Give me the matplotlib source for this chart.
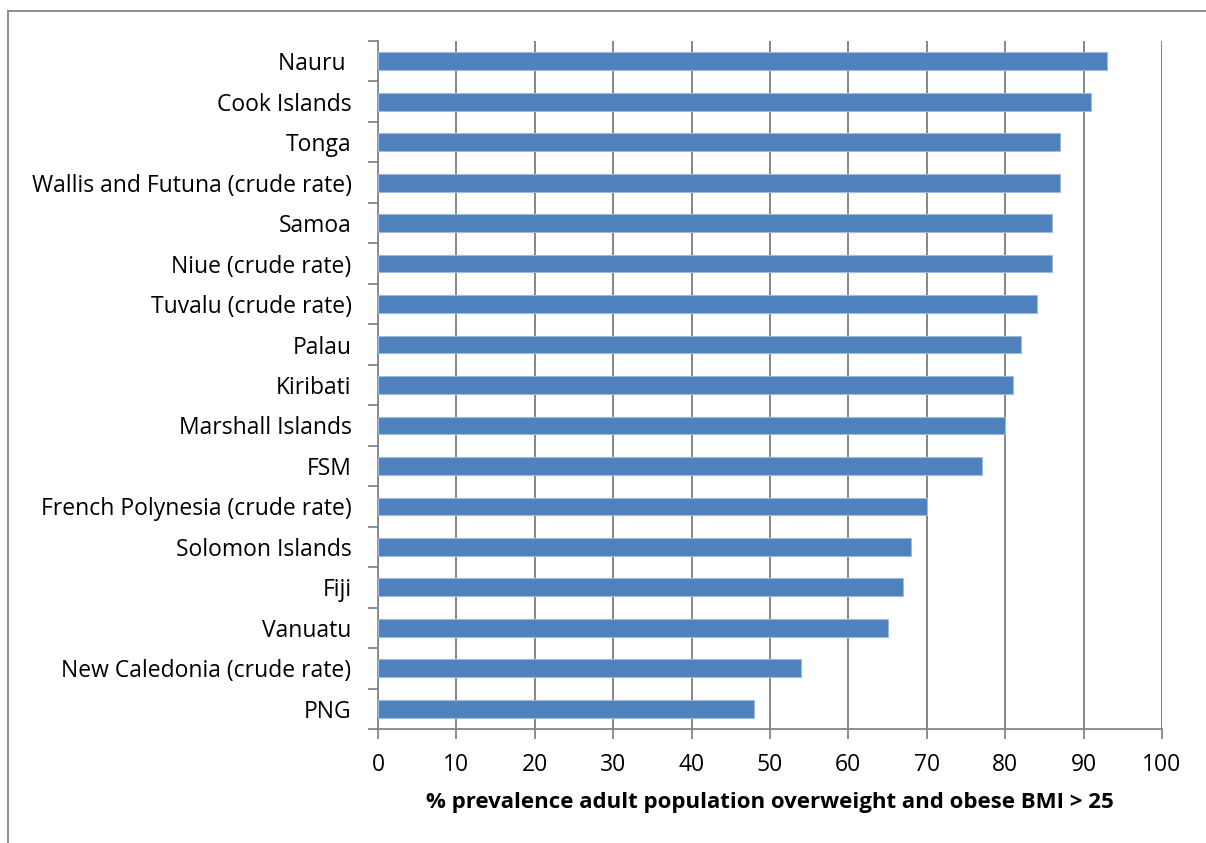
import matplotlib.pyplot as plt
import matplotlib.patches as mpatches
import numpy as np

paises = ['Nauru ', 'Cook Islands', 'Tonga', 'Wallis and Futuna (crude rate)', 'Samoa',
          'Niue (crude rate)', 'Tuvalu (crude rate)', 'Palau', 'Kiribati', 'Marshall Islands',
          'FSM', 'French Polynesia (crude rate)', 'Solomon Islands', 'Fiji', 'Vanuatu',
          'New Caledonia (crude rate)', 'PNG']
prevalencia = [93, 91, 87, 87, 86, 86, 84, 82, 81, 80, 77, 70, 68, 67, 65, 54, 48]
xticks = [0, 10, 20, 30, 40, 50, 60, 70, 80, 90, 100]

plt.rcParams['font.family'] = ['Open Sans', 'DejaVu Sans']

fig = plt.figure(figsize=(12.06, 8.43), dpi=100)
ax = fig.add_axes([0.3134, 0.1352, 0.6501, 0.8162])

y = np.arange(len(paises))[::-1]
ax.barh(y, prevalencia, height=0.44, color='#4F81BD', edgecolor='#9DB9DC', linewidth=0.8, zorder=3)

ax.set_xlim(0, 100)
ax.set_ylim(-0.5, len(paises) - 0.5)
ax.set_xticks(xticks)
ax.set_xticklabels([str(t) for t in xticks], fontsize=16.5)
ax.set_yticks(y)
ax.set_yticklabels(paises, fontsize=16.5)
ax.tick_params(axis='y', length=0, pad=19)
ax.set_yticks(np.arange(-0.5, len(paises), 1), minor=True)
ax.tick_params(axis='y', which='minor', length=7, width=1.3, color='#868686', direction='out')
ax.tick_params(axis='x', length=7, width=1.3, color='#868686', direction='out', pad=10)

ax.grid(axis='x', color='#868686', linewidth=1.4, zorder=0)
for s in ['top', 'right']:
    ax.spines[s].set_visible(False)
for s in ['left', 'bottom']:
    ax.spines[s].set_color('#868686')
    ax.spines[s].set_linewidth(1.3)

ax.set_xlabel('% prevalence adult population overweight and obese BMI > 25',
              fontsize=16, fontweight='bold', labelpad=11)

# borda do grafico
fig.patches.append(mpatches.Rectangle((0.0066, -0.05), 1.1, 1.037, transform=fig.transFigure,
                                      fill=False, edgecolor='#868686', linewidth=1.3))

plt.savefig('out.png', dpi=100)
